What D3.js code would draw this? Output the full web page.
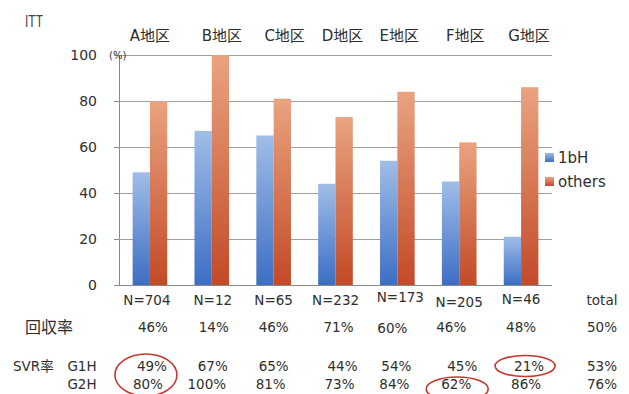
<!DOCTYPE html>
<html>
<head>
<meta charset="utf-8">
<script src="https://cdn.jsdelivr.net/npm/d3@7"></script>
<style>
  html, body { margin: 0; padding: 0; background: #fff; }
  svg { display: block; font-family: "DejaVu Sans", "Noto Sans CJK JP", sans-serif; }
</style>
</head>
<body>
<svg id="chart" width="629" height="394"></svg>
<script>
// Regions and ITT SVR rates (%)
const regions = ["A地区", "B地区", "C地区", "D地区", "E地区", "F地区", "G地区"];
const svr1bH = [49, 67, 65, 44, 54, 45, 21];
const svrOthers = [80, 100, 81, 73, 84, 62, 86];
const nLabels = ["N=704", "N=12", "N=65", "N=232", "N=173", "N=205", "N=46"];
const recoveryRate = ["46%", "14%", "46%", "71%", "60%", "46%", "48%"];
const g1hLabels = ["49%", "67%", "65%", "44%", "54%", "45%", "21%"];
const g2hLabels = ["80%", "100%", "81%", "73%", "84%", "62%", "86%"];
const totals = { n: "total", recovery: "50%", g1h: "53%", g2h: "76%" };
const yTicks = [0, 20, 40, 60, 80, 100];
const seriesNames = ["1bH", "others"];

const svg = d3.select("#chart");
const textColor = "#2e2e2e";

const x = d3.scaleBand().domain(regions).range([119, 552]).paddingInner(0.44).paddingOuter(0.22);
const y = d3.scaleLinear().domain([0, 100]).range([285, 55]);
const sub = d3.scaleBand().domain(seriesNames).range([0, x.bandwidth()]);

// vertical gradients for the bars
const defs = svg.append("defs");
function grad(id, top, bottom) {
  const g = defs.append("linearGradient").attr("id", id).attr("x1", 0).attr("y1", 0).attr("x2", 0).attr("y2", 1);
  g.append("stop").attr("offset", "0%").attr("stop-color", top);
  g.append("stop").attr("offset", "100%").attr("stop-color", bottom);
}
grad("gBlue", "#9fbde7", "#3d6ec4");
grad("gOrange", "#eaa380", "#c24a27");
const fills = { "1bH": "url(#gBlue)", "others": "url(#gOrange)" };

// gridlines + y axis
const yAxis = d3.axisLeft(y).tickValues(yTicks).tickSize(5).tickPadding(17);
const gy = svg.append("g").attr("transform", "translate(119,0)").call(yAxis);
gy.select(".domain").attr("stroke", "#888");
gy.selectAll(".tick line").attr("stroke", "#888");
gy.selectAll(".tick text").attr("fill", textColor).style("font-size", "14px")
  .style("font-family", "'DejaVu Sans', sans-serif");
gy.selectAll(".tick").filter(d => d > 0).append("line")
  .attr("x1", 0).attr("x2", 552 - 119).attr("stroke", "#a0a0a0").attr("stroke-width", 1);
gy.selectAll(".tick").filter(d => d === 0).append("line")
  .attr("x1", 0).attr("x2", 552 - 119).attr("stroke", "#888").attr("stroke-width", 1);

// bars
const data = regions.map((r, i) => ({ region: r, values: [
  { key: "1bH", v: svr1bH[i] }, { key: "others", v: svrOthers[i] }] }));
svg.append("g").selectAll("g").data(data).join("g")
  .attr("transform", d => `translate(${x(d.region)},0)`)
  .selectAll("rect").data(d => d.values).join("rect")
  .attr("x", d => sub(d.key))
  .attr("width", sub.bandwidth())
  .attr("y", d => y(d.v))
  .attr("height", d => y(0) - y(d.v))
  .attr("fill", d => fills[d.key]);

// titles
svg.append("text").attr("x", 25).attr("y", 27).text("ITT")
  .attr("textLength", 18).attr("lengthAdjust", "spacingAndGlyphs")
  .attr("fill", "#444").style("font-size", "16px")
  .style("font-family", "'Liberation Sans', sans-serif");
svg.append("text").attr("x", 109).attr("y", 59).text("(%)")
  .attr("fill", textColor).style("font-size", "10px");

const labelShift = [0, 10, 11, 7, 2, 6, 8];
svg.append("g").selectAll("text").data(regions).join("text")
  .attr("x", (d, i) => x(d) + x.bandwidth() / 2 + labelShift[i])
  .attr("y", 41).attr("text-anchor", "middle")
  .attr("fill", textColor).style("font-size", "15px").text(d => d);

// table rows under the chart
const cx = i => x(regions[i]) + x.bandwidth() / 2;
const totalX = 602;
function row(labels, yPos, shifts, total, ys) {
  const g = svg.append("g");
  g.selectAll("text").data(labels).join("text")
    .attr("x", (d, i) => cx(i) + shifts[i])
    .attr("y", (d, i) => yPos + (ys ? ys[i] : 0))
    .attr("text-anchor", "middle").attr("fill", textColor)
    .style("font-size", "13.5px").text(d => d);
  g.append("text").attr("x", totalX).attr("y", yPos).attr("text-anchor", "middle")
    .attr("fill", textColor).style("font-size", "13.5px").text(total);
}
row(nLabels, 305, [-3, 1, 0, 0, 3, 0, 0], totals.n, [0, 0, 0, 0, -3, 2, -1]);
row(recoveryRate, 332, [3, 2, 0, 3, -5, -8, 0], totals.recovery, [0, 0, 0, 0, 1, 0, 0]);
row(g1hLabels, 371, [2, 1, 0, 7, -1, 3, 8], totals.g1h);
row(g2hLabels, 389, [-2, -5, -3, 4, -3, -3, 5], totals.g2h);

svg.append("text").attr("x", 25).attr("y", 333).text("回収率")
  .attr("fill", textColor).style("font-size", "16px");
svg.append("text").attr("x", 13).attr("y", 371).text("SVR率")
  .attr("fill", textColor).style("font-size", "13.5px");
svg.append("text").attr("x", 82).attr("y", 371).attr("text-anchor", "middle").text("G1H")
  .attr("fill", textColor).style("font-size", "13.5px");
svg.append("text").attr("x", 82).attr("y", 389).attr("text-anchor", "middle").text("G2H")
  .attr("fill", textColor).style("font-size", "13.5px");

// highlight ellipses
const marks = [
  { i: 0, dy: 375, dx: -4, rx: 31, ry: 21 },
  { i: 6, dy: 366, dx: 4, rx: 30, ry: 10.5 },
  { i: 5, dy: 389, dx: -2, rx: 31, ry: 12 }
];
svg.append("g").selectAll("ellipse").data(marks).join("ellipse")
  .attr("cx", d => cx(d.i) + d.dx)
  .attr("cy", d => d.dy).attr("rx", d => d.rx).attr("ry", d => d.ry)
  .attr("fill", "none").attr("stroke", "#c8362c").attr("stroke-width", 1.6);

// legend
const lg = svg.append("g").attr("transform", "translate(545,153)");
seriesNames.forEach((s, i) => {
  lg.append("rect").attr("x", 0).attr("y", i * 24).attr("width", 9).attr("height", 9).attr("fill", fills[s]);
  lg.append("text").attr("x", 13).attr("y", i * 24 + 10).text(s)
    .attr("fill", textColor).style("font-size", "15px");
});
</script>
</body>
</html>
